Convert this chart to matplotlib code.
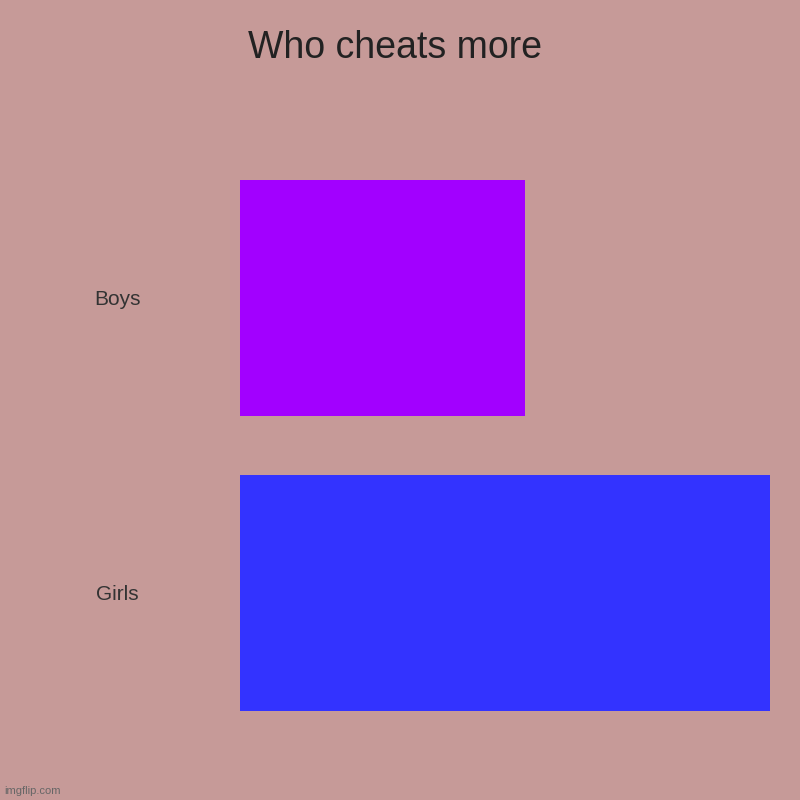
import matplotlib
matplotlib.use('Agg')
import matplotlib.pyplot as plt

plt.rcParams['font.family'] = ['Liberation Sans', 'DejaVu Sans']

categories = ['Boys', 'Girls']
values = [7, 13]
colors = ['#a200ff', '#3333ff']
bg = '#c69a98'

fig = plt.figure(figsize=(8, 8), dpi=100, facecolor=bg)
ax = fig.add_axes([0.3, 0.075, 0.6625, 0.7375])
ax.set_facecolor(bg)

ax.barh(range(len(categories)), values, height=0.8, color=colors)
ax.set_ylim(1.5, -0.5)
ax.set_xlim(0, max(values))

ax.set_yticks(range(len(categories)))
ax.set_yticklabels(categories, fontsize=15, color='#333333')
for lbl in ax.get_yticklabels():
    lbl.set_horizontalalignment('center')
ax.tick_params(axis='y', length=0, pad=123 * 0.72)
ax.set_xticks([])
for s in ax.spines.values():
    s.set_visible(False)

fig.text(0.494, 0.94, 'Who cheats more', ha='center', va='center',
         fontsize=27, color='#222222')
fig.text(0.005, 0.011, 'imgflip.com', ha='left', va='center',
         fontsize=8, color='#666666')

fig.savefig('out.png', dpi=100, facecolor=bg)
